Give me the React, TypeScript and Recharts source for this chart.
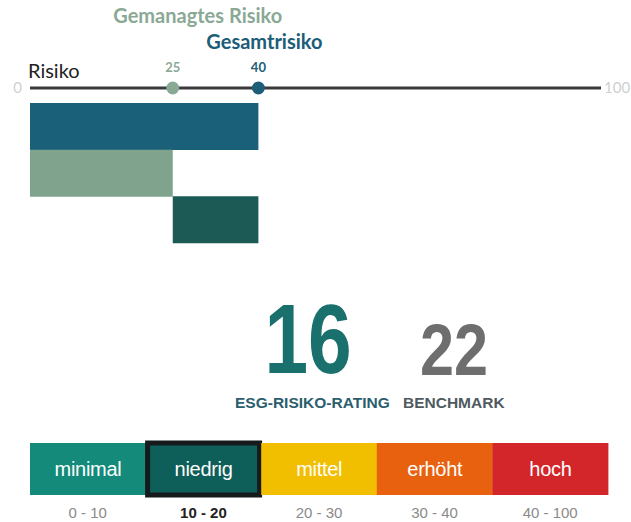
import React from "react";
import {
  ScatterChart,
  Scatter,
  BarChart,
  Bar,
  XAxis,
  YAxis,
  Cell,
  LabelList,
} from "recharts";

// risk axis
const scaleTicks = [0, 100];
const riskNames = ["Gemanagtes Risiko", "Gesamtrisiko"];
const riskValues = [25, 40];

// risk bars (floating ranges)
const barNames = ["Gesamtrisiko", "Gemanagtes Risiko", "Ungemanagtes Risiko"];
const barStarts = [0, 0, 25];
const barEnds = [40, 25, 40];

// rating
const esgRating = 16;
const benchmark = 22;

// rating bands
const bandLabels = ["minimal", "niedrig", "mittel", "erhöht", "hoch"];
const bandMins = [0, 10, 20, 30, 40];
const bandMaxs = [10, 20, 30, 40, 100];

const riskColors: Record<string, string> = {
  "Gemanagtes Risiko": "#8aa995",
  Gesamtrisiko: "#1c5d78",
};
const barColors = ["#1a6079", "#80a38e", "#1b5a55"];
const bandColors = ["#138a7a", "#0e5e5a", "#f2be00", "#e8610e", "#d3262a"];

const riskData = riskNames.map((name, i) => ({ name, value: riskValues[i], level: 0 }));
const barData = barNames.map((name, i) => ({ name, range: [barStarts[i], barEnds[i]] }));
const bandData = bandLabels.map((label, i) => ({
  label,
  range: `${bandMins[i]} - ${bandMaxs[i]}`,
  level: 1,
  active: esgRating >= bandMins[i] && esgRating < bandMaxs[i],
}));

// name label offsets relative to the dot
const nameOffsets: Record<string, { dx: number; dy: number }> = {
  "Gemanagtes Risiko": { dx: 25, dy: -65 },
  Gesamtrisiko: { dx: 6, dy: -39 },
};

const RiskDot = (props: any) => {
  const { cx, cy, payload } = props;
  const color = riskColors[payload.name];
  const off = nameOffsets[payload.name];
  return (
    <g>
      <circle cx={cx} cy={cy} r={6.5} fill={color} />
      <text x={cx} y={cy - 16} textAnchor="middle" fontFamily="Lato" fontWeight={700} fontSize={13} fill={color}>
        {payload.value}
      </text>
      <text x={cx + off.dx} y={cy + off.dy} textAnchor="middle" fontFamily="Lato" fontWeight={700} fontSize={20} fill={color}>
        {payload.name}
      </text>
    </g>
  );
};

const EndTick = (props: any) => {
  const { x, y, payload } = props;
  const isStart = payload.value === scaleTicks[0];
  return (
    <text
      x={isStart ? x - 8 : x + 3}
      y={y + 5}
      textAnchor={isStart ? "end" : "start"}
      fill="#d0d0d0"
      fontSize={15}
      fontFamily="Lato"
    >
      {payload.value}
    </text>
  );
};

const BandShape = (props: any) => {
  const { x, y, width, height, fill, payload } = props;
  if (payload.active) {
    return (
      <rect x={x + 2} y={y} width={width - 4} height={height} fill={fill} stroke="#151a1c" strokeWidth={5} />
    );
  }
  return <rect x={x} y={y} width={width} height={height} fill={fill} />;
};

const BandTick = (props: any) => {
  const { x, y, payload, index } = props;
  const active = bandData[index]?.active;
  return (
    <text
      x={x}
      y={y + 23}
      textAnchor="middle"
      fontFamily="Liberation Sans"
      fontSize={15}
      fontWeight={active ? 700 : 400}
      fill={active ? "#222" : "#8a8a8a"}
    >
      {payload.value}
    </text>
  );
};

export default function App() {
  return (
    <div style={{ position: "absolute", left: 0, top: 0, width: 631, height: 522, background: "#fff" }}>
      <div style={{ position: "absolute", left: 0, top: 0 }}>
        <ScatterChart width={631} height={100} margin={{ top: 0, right: 30, left: 30, bottom: 0 }}>
          <XAxis
            type="number"
            dataKey="value"
            domain={[0, 100]}
            ticks={scaleTicks}
            height={12}
            tickSize={0}
            tickMargin={0}
            tickLine={false}
            axisLine={{ stroke: "#3a3a3a", strokeWidth: 3 }}
            tick={<EndTick />}
          />
          <YAxis type="number" dataKey="level" domain={[0, 1]} hide />
          <Scatter data={riskData} shape={<RiskDot />} isAnimationActive={false} />
        </ScatterChart>
      </div>

      <div style={{ position: "absolute", left: 0, top: 96 }}>
        <BarChart
          width={631}
          height={160}
          data={barData}
          layout="vertical"
          barCategoryGap={0}
          margin={{ top: 7, right: 30, left: 30, bottom: 13 }}
        >
          <XAxis type="number" domain={[0, 100]} hide />
          <YAxis type="category" dataKey="name" hide />
          <Bar dataKey="range" isAnimationActive={false}>
            {barData.map((d, i) => (
              <Cell key={d.name} fill={barColors[i]} />
            ))}
          </Bar>
        </BarChart>
      </div>

      <div style={{ position: "absolute", left: 0, top: 430 }}>
        <BarChart
          width={631}
          height={92}
          data={bandData}
          barCategoryGap={0}
          margin={{ top: 13, right: 23, left: 30, bottom: 0 }}
        >
          <XAxis
            dataKey="range"
            height={27}
            tickSize={0}
            tickMargin={0}
            axisLine={false}
            tickLine={false}
            interval={0}
            tick={<BandTick />}
          />
          <YAxis type="number" domain={[0, 1]} hide />
          <Bar dataKey="level" shape={<BandShape />} isAnimationActive={false}>
            {bandData.map((d, i) => (
              <Cell key={d.label} fill={bandColors[i]} />
            ))}
            <LabelList
              dataKey="label"
              position="center"
              fill="#ffffff"
              fontFamily="Liberation Sans"
              fontSize={20}
              letterSpacing={-0.3}
            />
          </Bar>
        </BarChart>
      </div>

      <svg
        width={631}
        height={522}
        style={{ position: "absolute", left: 0, top: 0, pointerEvents: "none" }}
      >
        <text x={28} y={78} fontFamily="Lato" fontSize={20} fill="#222">
          Risiko
        </text>
        <text
          transform="translate(308,373) scale(0.8,1)"
          textAnchor="middle"
          fontFamily="Liberation Sans"
          fontWeight={700}
          fontSize={98}
          fill="#19706c"
        >
          {esgRating}
        </text>
        <text
          transform="translate(454,375) scale(0.85,1)"
          textAnchor="middle"
          fontFamily="Liberation Sans"
          fontWeight={700}
          fontSize={72}
          fill="#6e6e6e"
        >
          {benchmark}
        </text>
        <text x={235} y={408} fontFamily="Liberation Sans" fontWeight={700} fontSize={15.5} fill="#2b5d6e">
          ESG-RISIKO-RATING
        </text>
        <text x={403} y={408} fontFamily="Liberation Sans" fontWeight={700} fontSize={15.5} fill="#4f5a5f">
          BENCHMARK
        </text>
      </svg>
    </div>
  );
}
